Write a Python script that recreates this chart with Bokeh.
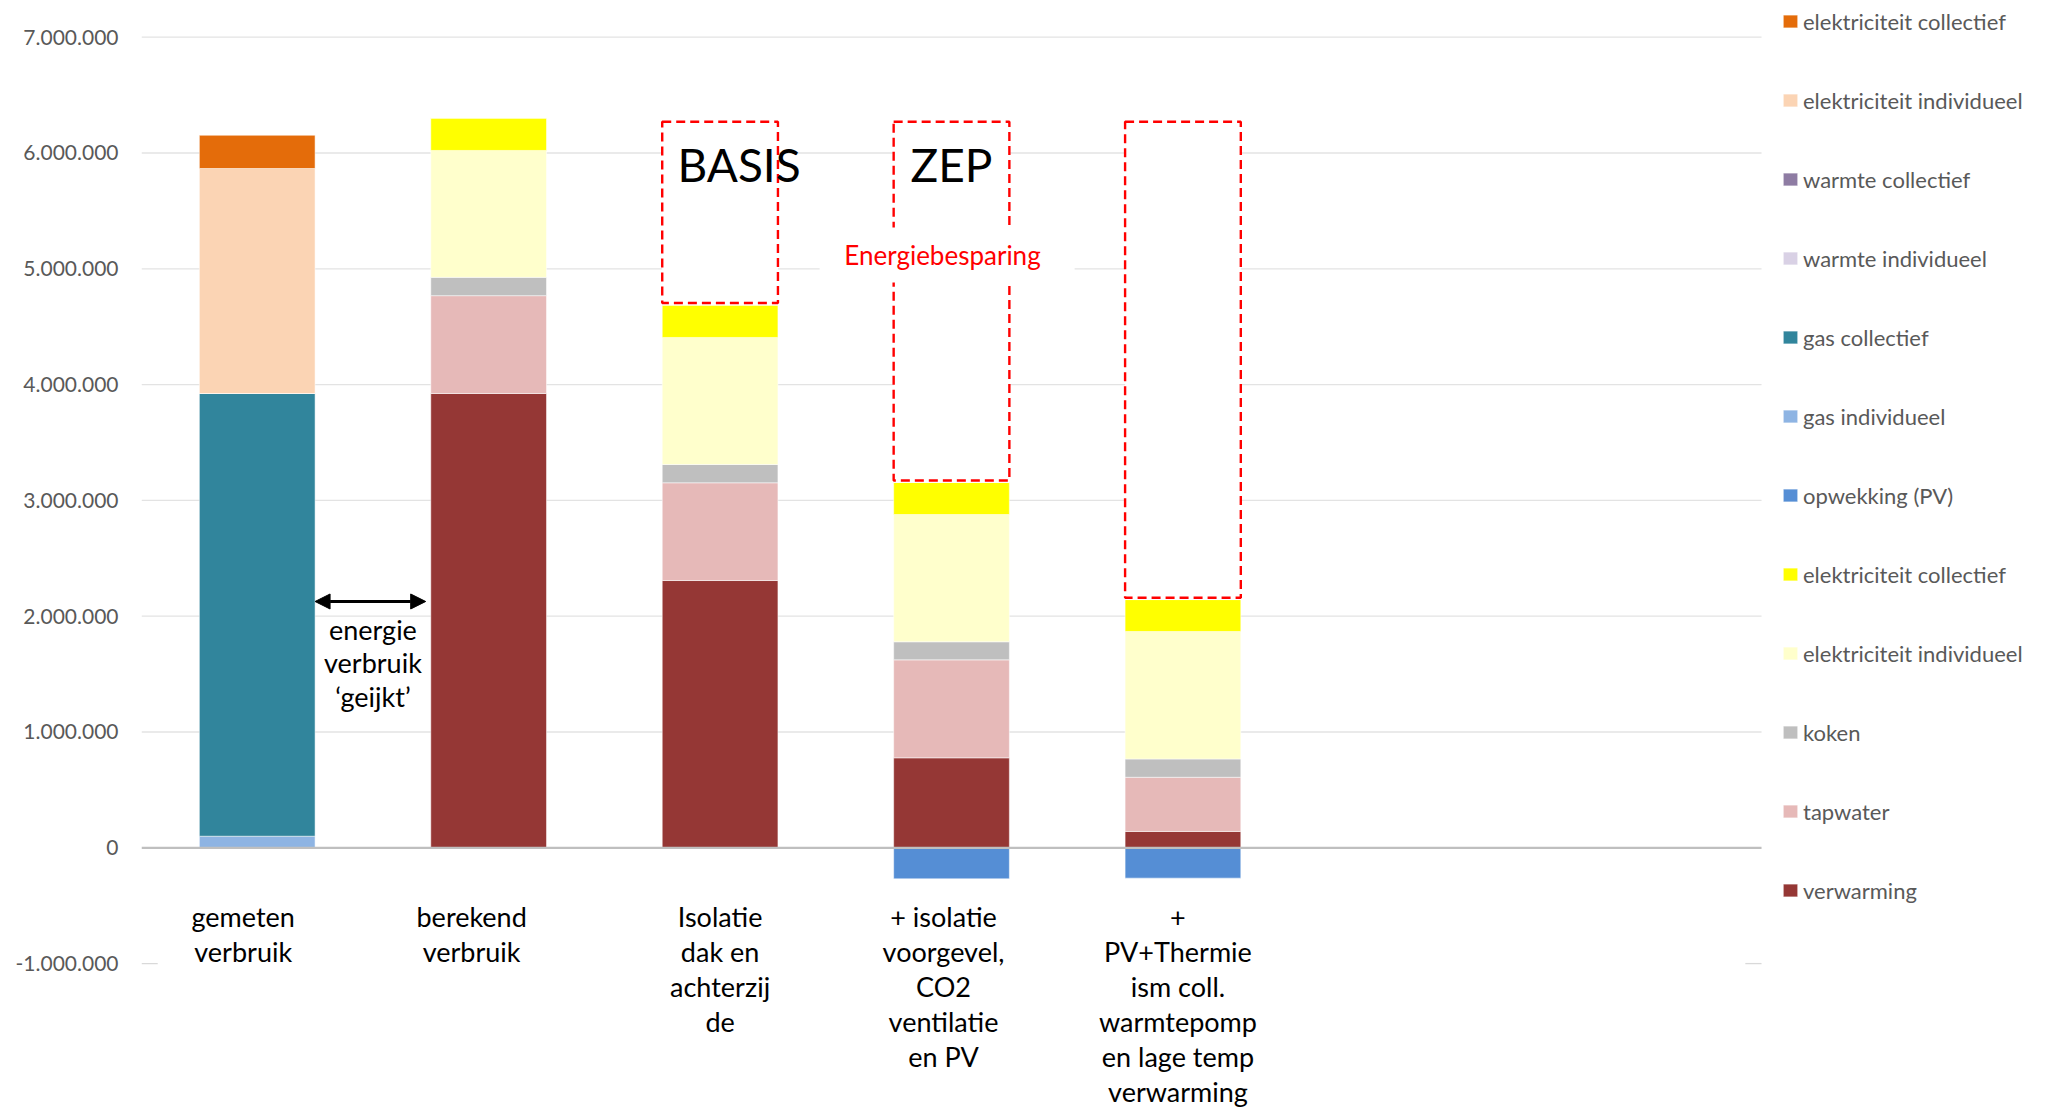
import numpy as np
from bokeh.plotting import figure
from bokeh.models import (Range1d, FixedTicker, Legend, LegendItem,
                          ColumnDataSource, Arrow, NormalHead)
from bokeh.core.properties import value
from bokeh.embed import file_html
from bokeh.resources import INLINE

# ---------------------------------------------------------------- data
categories = [
    "gemeten\nverbruik",
    "berekend\nverbruik",
    "Isolatie\ndak en\nachterzij\nde",
    "+ isolatie\nvoorgevel,\nCO2\nventilatie\nen PV",
    "+\nPV+Thermie\nism coll.\nwarmtepomp\nen lage temp\nverwarming",
    "",
    "",
]

# energy use per scenario (series in stacking order, bottom first)
verwarming         = [0, 3923000, 2308000, 777000, 141000, 0, 0]
tapwater           = [0, 845000, 844000, 846000, 468000, 0, 0]
koken              = [0, 158000, 158000, 156000, 158000, 0, 0]
elek_individueel_b = [0, 1096000, 1097000, 1099000, 1101000, 0, 0]
elek_collectief_b  = [0, 283000, 283000, 279000, 276000, 0, 0]
opwekking_pv       = [0, 0, 0, -268000, -262000, 0, 0]
gas_individueel    = [100000, 0, 0, 0, 0, 0, 0]
gas_collectief     = [3823000, 0, 0, 0, 0, 0, 0]
warmte_individueel = [0, 0, 0, 0, 0, 0, 0]
warmte_collectief  = [0, 0, 0, 0, 0, 0, 0]
elek_individueel_a = [1943000, 0, 0, 0, 0, 0, 0]
elek_collectief_a  = [287000, 0, 0, 0, 0, 0, 0]

# level of the calculated use, outlined above the saving scenarios
referentie_niveau = 6270000
besparing_scenarios = [2, 3, 4]
scenario_titels = {2: "BASIS", 3: "ZEP"}

y_ticks = [-1000000, 0, 1000000, 2000000, 3000000, 4000000, 5000000, 6000000, 7000000]

series = [
    ("verwarming", "#953735", verwarming),
    ("tapwater", "#E6B9B8", tapwater),
    ("koken", "#BFBFBF", koken),
    ("elektriciteit individueel", "#FFFFCC", elek_individueel_b),
    ("elektriciteit collectief", "#FFFF00", elek_collectief_b),
    ("opwekking (PV)", "#558ED5", opwekking_pv),
    ("gas individueel", "#8EB4E3", gas_individueel),
    ("gas collectief", "#31859C", gas_collectief),
    ("warmte individueel", "#D9D1E5", warmte_individueel),
    ("warmte collectief", "#8E7CA3", warmte_collectief),
    ("elektriciteit individueel", "#FBD4B4", elek_individueel_a),
    ("elektriciteit collectief", "#E46C0A", elek_collectief_a),
]

# horizontal nudge (px) of each wrapped category label
label_shift = [-14, -17, 0, -8, -5, 0, 0]

# ---------------------------------------------------------------- layout
FONT = value("Lato")
n_slots = len(categories)
x_pos = np.arange(n_slots) + 0.5
bar_w = 0.5

p = figure(width=2045, height=1107,
           x_range=Range1d(0, 8.227), y_range=Range1d(-2242700, 7316900),
           output_backend="svg", toolbar_location=None,
           x_axis_location=None, y_axis_location="left",
           min_border_left=141, min_border_right=0,
           min_border_top=0, min_border_bottom=0,
           outline_line_color=None, background_fill_color="white")
p.ygrid.visible = False
p.xgrid.visible = False

ax = p.yaxis[0]
ax.ticker = FixedTicker(ticks=y_ticks)
ax.major_label_overrides = {t: f"{t:,}".replace(",", ".") for t in y_ticks}
ax.axis_line_color = None
ax.major_tick_line_color = None
ax.minor_tick_line_color = None
ax.major_tick_out = 0
ax.major_label_standoff = 23
ax.major_label_text_font = "Lato"
ax.major_label_text_font_size = "21px"
ax.major_label_text_color = "#595959"

# horizontal gridlines (the -1M line only shows at its two ends)
grid_levels = [t for t in y_ticks if t > 0]
p.segment(x0=[0] * len(grid_levels), x1=[n_slots] * len(grid_levels),
          y0=grid_levels, y1=grid_levels, line_color="#E3E3E3", line_width=1.3)
low = y_ticks[0]
p.segment(x0=[0, n_slots - 0.07], x1=[0.07, n_slots], y0=[low, low], y1=[low, low],
          line_color="#D9D9D9", line_width=1.3)

# ---------------------------------------------------------------- stacked bars
pos_base = np.zeros(n_slots)
neg_base = np.zeros(n_slots)
renderers = []
for name, color, vals in series:
    v = np.array(vals, dtype=float)
    if (v < 0).any():
        top = neg_base.copy()
        bottom = neg_base + v
        neg_base = bottom
    else:
        bottom = pos_base.copy()
        top = pos_base + v
        pos_base = top
    src = ColumnDataSource(dict(x=x_pos, bottom=bottom, top=top))
    r = p.vbar(x="x", width=bar_w, bottom="bottom", top="top", source=src,
               fill_color=color, line_color="white", line_alpha=0.5, line_width=1)
    renderers.append((name, r))

totals = pos_base

# zero line on top of the bars
p.segment(x0=[0], x1=[n_slots], y0=[0], y1=[0], line_color="#BFBFBF", line_width=2.2)

# dashed outlines showing the saving relative to the calculated use
sel = np.array(besparing_scenarios)
p.quad(left=x_pos[sel] - bar_w / 2, right=x_pos[sel] + bar_w / 2,
       bottom=totals[sel] + 15000, top=[referentie_niveau] * len(sel),
       fill_color="white", line_color="#FF0000", line_dash="9 5", line_width=2.4)

p.text(x=[x_pos[2] + 0.082, x_pos[3]], y=[5900000, 5900000],
       text=[scenario_titels[2], scenario_titels[3]],
       text_font=FONT, text_font_size=value("46px"), text_color="black",
       text_align="center", text_baseline="alphabetic")

p.rect(x=[3.481], y=[5119000], width=[255], height=[55],
       width_units="screen", height_units="screen",
       fill_color="white", line_color=None)
p.text(x=[3.461], y=[5121000], text=["Energiebesparing"],
       text_font=FONT, text_font_size=value("26px"), text_color="#FF0000",
       text_align="center", text_baseline="alphabetic")

# calibration arrow between measured and calculated use
arrow_y = 2127000
p.add_layout(Arrow(x_start=x_pos[0] + bar_w / 2, x_end=x_pos[1] - bar_w / 2 - 0.022,
                   y_start=arrow_y, y_end=arrow_y, line_width=3, line_color="black",
                   start=NormalHead(size=15, fill_color="black", line_color="black"),
                   end=NormalHead(size=15, fill_color="black", line_color="black")))
note_lines = ["energie", "verbruik", "\u2018geijkt\u2019"]
p.text(x=[1.0] * 3, y=[arrow_y] * 3, text=note_lines,
       y_offset=[28 + 33.5 * k for k in range(3)],
       text_font=FONT, text_font_size=value("27px"), text_color="black",
       text_align="center", text_baseline="alphabetic")

# category labels, one row per line of text
lab = dict(x=[], y=[], text=[], dx=[], dy=[])
for i, cat in enumerate(categories):
    for k, line in enumerate(cat.split("\n")):
        if line:
            lab["x"].append(x_pos[i])
            lab["y"].append(0)
            lab["text"].append(line)
            lab["dx"].append(label_shift[i])
            lab["dy"].append(69 + 34.9 * k)
p.text(x="x", y="y", text="text", x_offset="dx", y_offset="dy",
       source=ColumnDataSource(lab),
       text_font=FONT, text_font_size=value("27px"), text_color="black",
       text_align="center", text_baseline="alphabetic")

# ---------------------------------------------------------------- legend
items = [LegendItem(label=name, renderers=[r]) for name, r in reversed(renderers)]
legend = Legend(items=items, location=(1640, 202), orientation="vertical",
                glyph_width=18, glyph_height=16, label_standoff=4,
                label_height=30, spacing=49, padding=0, margin=0,
                border_line_color=None, background_fill_alpha=0,
                label_text_font="Lato", label_text_font_size="22px",
                label_text_color="#595959")
p.add_layout(legend)

with open("out.html", "w") as f:
    f.write(file_html(p, INLINE))
